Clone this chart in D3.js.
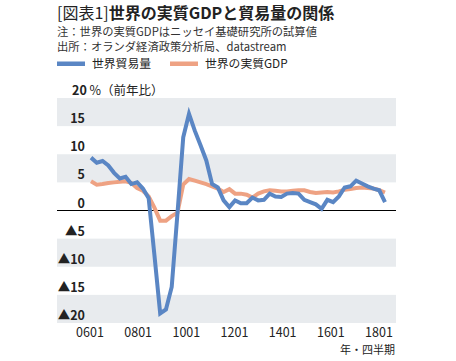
<!DOCTYPE html>
<html lang="ja">
<head>
<meta charset="UTF-8">
<title>世界の実質GDPと貿易量の関係</title>
<script src="https://d3js.org/d3.v7.min.js"></script>
<style>
  html, body { margin: 0; padding: 0; background: #fff; }
  svg { display: block; font-family: "Noto Sans CJK JP", "Noto Sans", sans-serif; }
</style>
</head>
<body>
<div id="chart"></div>
<script>
    const width = 456, height = 361;

    // quarters 2006Q1 .. 2018Q4
    const quarters = [];
    for (let y = 6; y <= 18; y++) {
        for (let q = 1; q <= 4; q++) quarters.push(String(y).padStart(2, "0") + "0" + q);
    }

    // 世界貿易量 (前年比 %)
    const tradeVolume = [
        9.4, 8.5, 8.8, 8.0, 6.7, 5.7, 6.0, 4.7, 5.0, 3.9, 2.2, -7.9,
        -18.3, -17.6, -13.6, -0.5, 13.0, 17.2, 14.2, 11.6, 8.9, 4.7, 4.1, 1.8,
        0.6, 1.8, 1.3, 1.3, 2.3, 1.8, 1.9, 3.0, 2.5, 2.4, 3.0, 3.1,
        3.0, 1.9, 1.5, 1.1, 0.3, 1.9, 1.5, 2.5, 4.1, 4.3, 5.3, 4.8,
        4.3, 3.9, 3.6, 1.5
    ];
    // 世界の実質GDP (前年比 %)
    const realGDP = [
        5.2, 4.6, 4.7, 4.9, 5.0, 5.1, 5.2, 4.9, 4.0, 3.5, 2.5, 0.5,
        -1.8, -1.8, -1.0, -0.4, 4.6, 5.6, 5.3, 5.0, 4.7, 4.3, 3.9, 3.3,
        3.8, 3.0, 3.0, 2.8, 2.3, 3.0, 3.4, 3.6, 3.5, 3.4, 3.4, 3.5,
        3.6, 3.6, 3.3, 3.1, 3.2, 3.3, 3.2, 3.4, 3.7, 3.8, 4.0, 4.1,
        4.0, 3.9, 3.6, 3.2
    ];

    const yTicks = [15, 10, 5, 0, -5, -10, -15, -20];
    const xTickLabels = ["0601", "0801", "1001", "1201", "1401", "1601", "1801"];
    const series = [
        { name: "世界貿易量", values: tradeVolume, color: "#5a86c4" },
        { name: "世界の実質GDP", values: realGDP, color: "#eea283" }
    ];

    const plot = { left: 57, right: 396, top: 98, bottom: 323 };

    const svg = d3.select("#chart").append("svg")
        .attr("width", width)
        .attr("height", height);

    const x = d3.scaleLinear()
        .domain([0, quarters.length - 1])
        .range([91, 385]);
    // tick labels are spread a little wider than the data in the original
    const xLabel = d3.scalePoint()
        .domain(xTickLabels)
        .range([90, 379]);
    const y = d3.scaleLinear()
        .domain([-20, 20])
        .range([plot.bottom, plot.top]);

    // Title and notes
    const title = svg.append("text")
        .attr("x", 57).attr("y", 19)
        .attr("font-size", 16)
        .attr("fill", "#222");
    title.append("tspan").attr("font-weight", 400).text("[図表1]");
    title.append("tspan").attr("font-weight", 700).text("世界の実質GDPと貿易量の関係");

    svg.append("text").attr("x", 57).attr("y", 36)
        .attr("font-size", 11.3).attr("fill", "#333")
        .text("注：世界の実質GDPはニッセイ基礎研究所の試算値");
    svg.append("text").attr("x", 57).attr("y", 51)
        .attr("font-size", 11.3).attr("fill", "#333")
        .text("出所：オランダ経済政策分析局、datastream");

    // Legend
    const legendX = [57, 170];
    series.forEach((s, i) => {
        svg.append("rect")
            .attr("x", legendX[i]).attr("y", 61.5)
            .attr("width", 28).attr("height", 4.5)
            .attr("fill", s.color);
        svg.append("text")
            .attr("x", legendX[i] + 35).attr("y", 68)
            .attr("font-size", 11.8).attr("fill", "#222")
            .text(s.name);
    });

    // Alternating grey bands
    const bands = [[15, 20], [5, 10], [-10, -5], [-20, -15]];
    svg.append("g").selectAll("rect")
        .data(bands)
        .join("rect")
        .attr("x", plot.left)
        .attr("width", plot.right - plot.left)
        .attr("y", d => y(d[1]))
        .attr("height", d => y(d[0]) - y(d[1]))
        .attr("fill", "#e8ebee");

    // zero line
    svg.append("line")
        .attr("x1", plot.left).attr("x2", plot.right)
        .attr("y1", y(0)).attr("y2", y(0))
        .attr("stroke", "#000").attr("stroke-width", 1);

    // y labels
    svg.append("g").selectAll("text")
        .data(yTicks)
        .join("text")
        .attr("x", 85)
        .attr("y", d => y(d) - 3)
        .attr("text-anchor", "end")
        .attr("font-size", 12.5)
        .attr("font-weight", 700)
        .attr("fill", "#222")
        .text(d => d < 0 ? "▲" + Math.abs(d) : d);
    svg.append("text")
        .attr("x", 72).attr("y", y(20) - 3)
        .attr("font-size", 12.5).attr("fill", "#222")
        .html('<tspan font-weight="700">20</tspan><tspan> %（前年比）</tspan>');

    // x labels
    svg.append("g").selectAll("text")
        .data(xTickLabels)
        .join("text")
        .attr("x", d => xLabel(d))
        .attr("y", 337)
        .attr("text-anchor", "middle")
        .attr("font-size", 12.5)
        .attr("fill", "#222")
        .text(d => d);
    svg.append("text")
        .attr("x", 395).attr("y", 354)
        .attr("text-anchor", "end")
        .attr("font-size", 11)
        .attr("fill", "#222")
        .text("年・四半期");

    // Lines
    const line = d3.line()
        .x((d, i) => x(i))
        .y(d => y(d));

    svg.append("g").selectAll("path")
        .data(series.slice().reverse())
        .join("path")
        .attr("d", d => line(d.values))
        .attr("fill", "none")
        .attr("stroke", d => d.color)
        .attr("stroke-width", 4)
        .attr("stroke-linejoin", "miter");
</script>
</body>
</html>
